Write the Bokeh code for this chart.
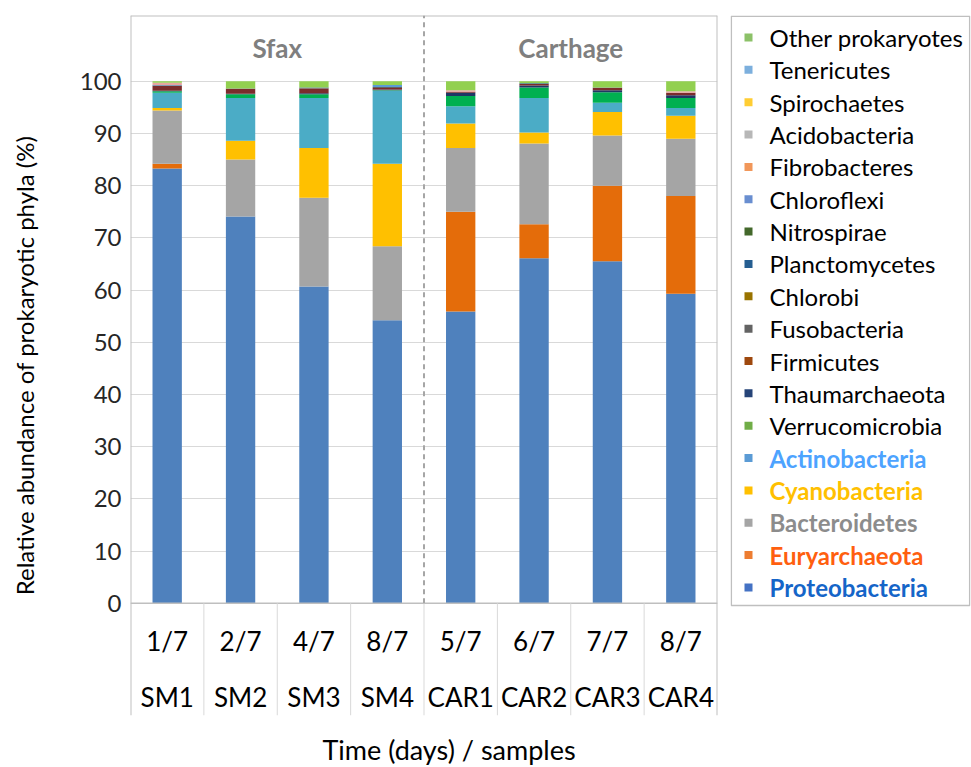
from bokeh.plotting import figure
from bokeh.models import ColumnDataSource, FactorRange, Range1d, FixedTicker, Title
from bokeh.layouts import row
from bokeh.core.properties import value
from bokeh.embed import file_html
from bokeh.resources import INLINE

# ---------------- data ----------------
samples = ["SM1", "SM2", "SM3", "SM4", "CAR1", "CAR2", "CAR3", "CAR4"]
dates = ["1/7", "2/7", "4/7", "8/7", "5/7", "6/7", "7/7", "8/7"]
sites = ["Sfax", "Carthage"]
sample_site = ["Sfax", "Sfax", "Sfax", "Sfax", "Carthage", "Carthage", "Carthage", "Carthage"]

proteobacteria = [83.3, 74.1, 60.7, 54.2, 55.9, 66.1, 65.5, 59.3]
euryarchaeota = [0.9, 0.0, 0.0, 0.0, 19.1, 6.5, 14.5, 18.7]
bacteroidetes = [10.2, 10.9, 17.0, 14.2, 12.2, 15.5, 9.6, 11.0]
cyanobacteria = [0.5, 3.6, 9.5, 15.8, 4.7, 2.1, 4.5, 4.4]
actinobacteria = [2.9, 8.2, 9.6, 14.0, 3.3, 6.6, 1.8, 1.5]
verrucomicrobia = [0.3, 0.7, 0.7, 0.1, 2.0, 2.0, 2.0, 1.9]
thaumarchaeota = [0.1, 0.1, 0.2, 0.1, 0.6, 0.4, 0.4, 0.5]
firmicutes = [0.9, 0.9, 0.9, 0.3, 0.2, 0.3, 0.4, 0.5]
fusobacteria = [0.1, 0.1, 0.1, 0.2, 0.0, 0.0, 0.1, 0.0]
chlorobi = [0.0, 0.0, 0.0, 0.0, 0.0, 0.0, 0.0, 0.0]
planctomycetes = [0.05, 0.0, 0.1, 0.0, 0.0, 0.1, 0.0, 0.0]
nitrospirae = [0.0, 0.0, 0.0, 0.0, 0.0, 0.0, 0.0, 0.0]
chloroflexi = [0.05, 0.0, 0.0, 0.0, 0.0, 0.0, 0.0, 0.0]
fibrobacteres = [0.4, 0.0, 0.0, 0.0, 0.3, 0.0, 0.0, 0.3]
acidobacteria = [0.0, 0.0, 0.0, 0.0, 0.0, 0.0, 0.0, 0.0]
spirochaetes = [0.0, 0.0, 0.0, 0.0, 0.0, 0.0, 0.0, 0.0]
tenericutes = [0.0, 0.0, 0.0, 0.4, 0.0, 0.0, 0.0, 0.0]
other_prokaryotes = [0.3, 1.4, 1.2, 0.7, 1.7, 0.4, 1.2, 1.9]

phyla = ["Proteobacteria", "Euryarchaeota", "Bacteroidetes", "Cyanobacteria",
         "Actinobacteria", "Verrucomicrobia", "Thaumarchaeota", "Firmicutes",
         "Fusobacteria", "Chlorobi", "Planctomycetes", "Nitrospirae",
         "Chloroflexi", "Fibrobacteres", "Acidobacteria", "Spirochaetes",
         "Tenericutes", "Other prokaryotes"]
series = [proteobacteria, euryarchaeota, bacteroidetes, cyanobacteria,
          actinobacteria, verrucomicrobia, thaumarchaeota, firmicutes,
          fusobacteria, chlorobi, planctomycetes, nitrospirae, chloroflexi,
          fibrobacteres, acidobacteria, spirochaetes, tenericutes, other_prokaryotes]
highlighted = ["Proteobacteria", "Euryarchaeota", "Bacteroidetes", "Cyanobacteria", "Actinobacteria"]

# ---------------- styles ----------------
bar_colors = ["#4F81BD", "#E46C0A", "#A5A5A5", "#FFC000", "#4BACC6", "#00B050",
              "#1F3864", "#7B2C2C", "#636363", "#997300", "#255E91", "#375623",
              "#6E8FD0", "#E6A5A0", "#A5A5A5", "#FFC000", "#5B9BD5", "#92D050"]
legend_colors = ["#4472C4", "#ED7D31", "#A5A5A5", "#FFC000", "#5B9BD5", "#70AD47",
                 "#264478", "#9E480E", "#636363", "#997300", "#255E91", "#43682B",
                 "#698ED0", "#F1975A", "#B7B7B7", "#FFCD33", "#7CAFDD", "#8CC168"]
label_colors = {"Proteobacteria": "#1565C8", "Euryarchaeota": "#FF5F0F",
                "Bacteroidetes": "#8C8C8C", "Cyanobacteria": "#FFC000",
                "Actinobacteria": "#4DA3FF"}
FONT = "Lato"

Y_TOP = 112.6
Y_BOT = -21.5
FRAME_H = 700
FRAME_W = 587
TOP_B = 15
BOT_B = 45
LEFT_B = 130

data = {"sample": samples}
for name, vals in zip(phyla, series):
    data[name] = vals
source = ColumnDataSource(data)

p = figure(x_range=FactorRange(factors=samples, range_padding=0),
           y_range=Range1d(Y_BOT, Y_TOP),
           frame_width=FRAME_W, frame_height=FRAME_H,
           min_border_left=LEFT_B, min_border_right=5, min_border_top=TOP_B,
           min_border_bottom=BOT_B,
           toolbar_location=None, output_backend="svg",
           background_fill_color="white", border_fill_color="white")
p.outline_line_color = None

p.vbar_stack(phyla, x="sample", width=0.4, source=source, color=bar_colors, line_color=None)

# gridlines (only 0..100)
ticks = list(range(0, 101, 10))
p.ygrid.ticker = FixedTicker(ticks=ticks)
p.ygrid.grid_line_color = "#D9D9D9"
p.ygrid.grid_line_width = 1
p.xgrid.grid_line_color = None

# y axis
p.yaxis.ticker = FixedTicker(ticks=ticks)
p.yaxis.bounds = (ticks[0], ticks[-1])
p.yaxis.axis_line_color = None
p.yaxis.major_tick_line_color = None
p.yaxis.minor_tick_line_color = None
p.yaxis.major_label_text_font = FONT
p.yaxis.major_label_text_font_size = "24px"
p.yaxis.major_label_text_color = "#262626"
p.yaxis.major_label_standoff = 3
p.yaxis.axis_label = "Relative abundance of prokaryotic phyla (%)"
p.yaxis.axis_label_text_font = FONT
p.yaxis.axis_label_text_font_size = "24px"
p.yaxis.axis_label_text_font_style = "normal"
p.yaxis.axis_label_text_color = "#000000"
p.yaxis.axis_label_standoff = 38

# x axis: hidden; category labels drawn as a table below zero, title below
p.xaxis.visible = False
p.add_layout(Title(text="Time (days) / samples", align="left", text_font=FONT,
                   text_font_size="27px", text_font_style="normal",
                   text_color="#000000", standoff=31, offset=192), "below")

n = len(samples)
bounds = list(range(n + 1))
# axis line at zero
p.segment(x0=[0], y0=[0], x1=[n], y1=[0], line_color="#BFBFBF", line_width=1.5)
# table separators
inner = bounds[1:-1]
p.segment(x0=inner, y0=[0] * len(inner), x1=inner, y1=[Y_BOT] * len(inner),
          line_color="#D9D9D9", line_width=1)
# outer border: left, right, top
p.segment(x0=[0, n], y0=[Y_BOT, Y_BOT], x1=[0, n], y1=[Y_TOP, Y_TOP],
          line_color="#BFBFBF", line_width=2)
p.segment(x0=[0], y0=[Y_TOP], x1=[n], y1=[Y_TOP], line_color="#BFBFBF", line_width=2)

# site divider and site titles
site_centers = []
site_edges = []
for s in sites:
    idx = [i for i, ss in enumerate(sample_site) if ss == s]
    site_centers.append((idx[0] + idx[-1] + 1) / 2)
    site_edges.append(idx[-1] + 1)
for e in site_edges[:-1]:
    p.segment(x0=[e], y0=[0], x1=[e], y1=[Y_TOP], line_color="#A6A6A6",
              line_width=2, line_dash="5 4")
p.text(x=site_centers, y=[106.3] * len(sites), text=sites, text_font=value(FONT),
       text_font_size="26px", text_font_style="bold", text_color="#7F7F7F",
       text_align="center", text_baseline="middle")

# category table labels
p.text(x=samples, y=[-7.2] * n, text=dates, text_font=value(FONT),
       text_font_size="26px", text_color="#000000", text_align="center",
       text_baseline="middle")
p.text(x=samples, y=[-18.0] * n, text=samples, text_font=value(FONT),
       text_font_size="26px", text_color="#000000", text_align="center",
       text_baseline="middle")

# ---------------- legend panel ----------------
LW = 240
BOX_H = 590
lg = figure(x_range=Range1d(0, LW), y_range=Range1d(FRAME_H, 0),
            frame_width=LW, frame_height=FRAME_H,
            min_border_left=8, min_border_right=1, min_border_top=TOP_B,
            min_border_bottom=BOT_B,
            toolbar_location=None, output_backend="svg",
            background_fill_color="white", border_fill_color="white")
lg.axis.visible = False
lg.grid.grid_line_color = None
lg.outline_line_color = None
lg.quad(left=[0.8], right=[LW - 0.8], top=[0.8], bottom=[BOX_H], fill_color=None,
        line_color="#BFBFBF", line_width=1.5)

order = list(range(len(phyla)))[::-1]
item_y = [22 + k * 32.35 for k in range(len(order))]
lg.scatter(x=[18] * len(order), y=item_y, marker="square", size=8,
           color=[legend_colors[i] for i in order], line_color=None)
norm_idx = [k for k, i in enumerate(order) if phyla[i] not in highlighted]
bold_idx = [k for k, i in enumerate(order) if phyla[i] in highlighted]
lg.text(x=[39] * len(norm_idx), y=[item_y[k] for k in norm_idx],
        text=[phyla[order[k]] for k in norm_idx], text_font=value(FONT),
        text_font_size="24px", text_color="#000000", text_align="left",
        text_baseline="middle")
lg.text(x=[39] * len(bold_idx), y=[item_y[k] for k in bold_idx],
        text=[phyla[order[k]] for k in bold_idx],
        text_color=[label_colors[phyla[order[k]]] for k in bold_idx],
        text_font=value(FONT), text_font_size="24px", text_font_style="bold",
        text_align="left", text_baseline="middle")

layout = row(p, lg)
open("out.html", "w").write(file_html(layout, INLINE))
